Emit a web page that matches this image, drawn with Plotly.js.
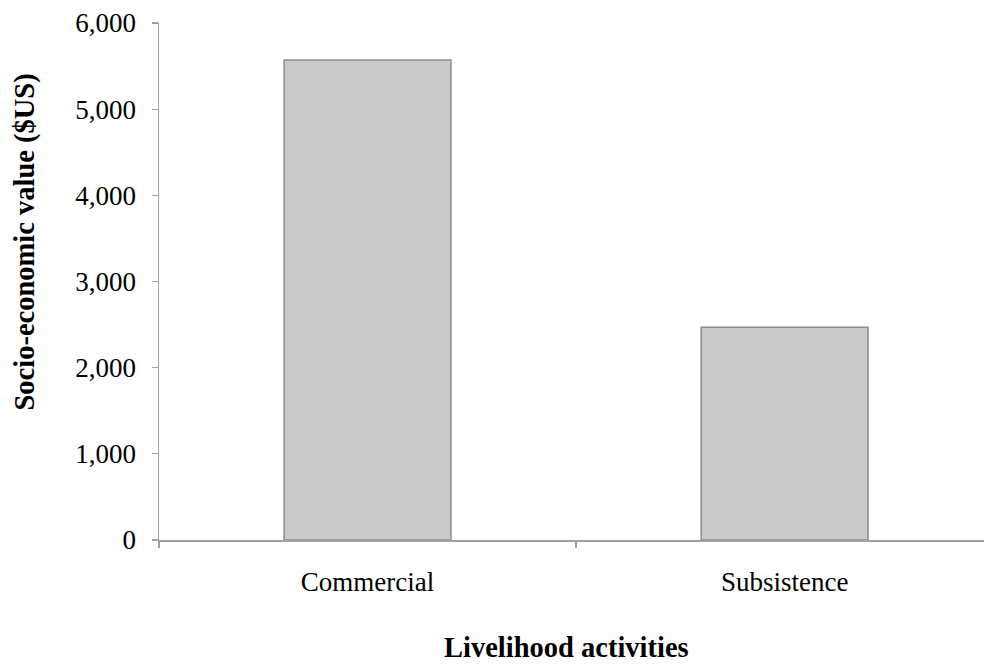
<!DOCTYPE html>
<html>
<head>
<meta charset="utf-8">
<script src="https://cdn.plot.ly/plotly-3.0.1.min.js"></script>
<style>
html,body{margin:0;padding:0;background:#fff;}
#chart{width:984px;height:666px;}
</style>
</head>
<body>
<div id="chart"></div>
<script>
const categories = ["Commercial", "Subsistence"];
const values = [5570, 2470];
const yTickValues = [0, 1000, 2000, 3000, 4000, 5000, 6000];
const xTitle = "Livelihood activities";
const yTitle = "Socio-economic value ($US)";

const FONT = "'Palatino Linotype', 'Book Antiqua', Palatino, 'Liberation Serif', serif";
const AXIS = "#a0a0a0";

const trace = {
  type: "bar",
  x: categories,
  y: values,
  width: 0.4,
  marker: { color: "#cacaca", line: { color: "#8c8c8c", width: 1.5 } },
  hoverinfo: "x+y"
};

const layout = {
  width: 984,
  height: 666,
  margin: { l: 159, r: 0, t: 23, b: 126, pad: 0 },
  paper_bgcolor: "#ffffff",
  plot_bgcolor: "#ffffff",
  showlegend: false,
  font: { family: FONT, size: 27, color: "#000000" },
  xaxis: {
    type: "category",
    range: [-0.5, 1.478],
    showline: true,
    linecolor: AXIS,
    linewidth: 1.5,
    showgrid: false,
    zeroline: false,
    ticks: "outside",
    tickson: "boundaries",
    ticklen: 6,
    tickwidth: 1.2,
    tickcolor: AXIS,
    ticklabelstandoff: 17,
    tickfont: { family: FONT, size: 27, color: "#000" }
  },
  yaxis: {
    range: [0, 6000],
    tickvals: yTickValues,
    tickformat: ",",
    showline: true,
    linecolor: AXIS,
    linewidth: 1.5,
    showgrid: false,
    zeroline: false,
    ticks: "outside",
    ticklen: 6,
    tickwidth: 1.2,
    tickcolor: AXIS,
    ticklabelstandoff: 10,
    tickfont: { family: FONT, size: 27, color: "#000" }
  },
  annotations: [
    {
      text: "<b>" + xTitle + "</b>",
      xref: "paper", yref: "paper",
      x: (566 - 159) / (984 - 159), y: (666 - 647 - 126) / (666 - 23 - 126),
      xanchor: "center", yanchor: "middle",
      showarrow: false,
      font: { family: FONT, size: 28.5, color: "#000" }
    },
    {
      text: "<b>" + yTitle + "</b>",
      xref: "paper", yref: "paper",
      x: (24 - 159) / (984 - 159), y: (539.5 - 242) / (666 - 23 - 126),
      xanchor: "center", yanchor: "middle",
      textangle: -90,
      showarrow: false,
      font: { family: FONT, size: 28.5, color: "#000" }
    }
  ]
};

Plotly.newPlot("chart", [trace], layout, { displayModeBar: false, staticPlot: true });
</script>
</body>
</html>
